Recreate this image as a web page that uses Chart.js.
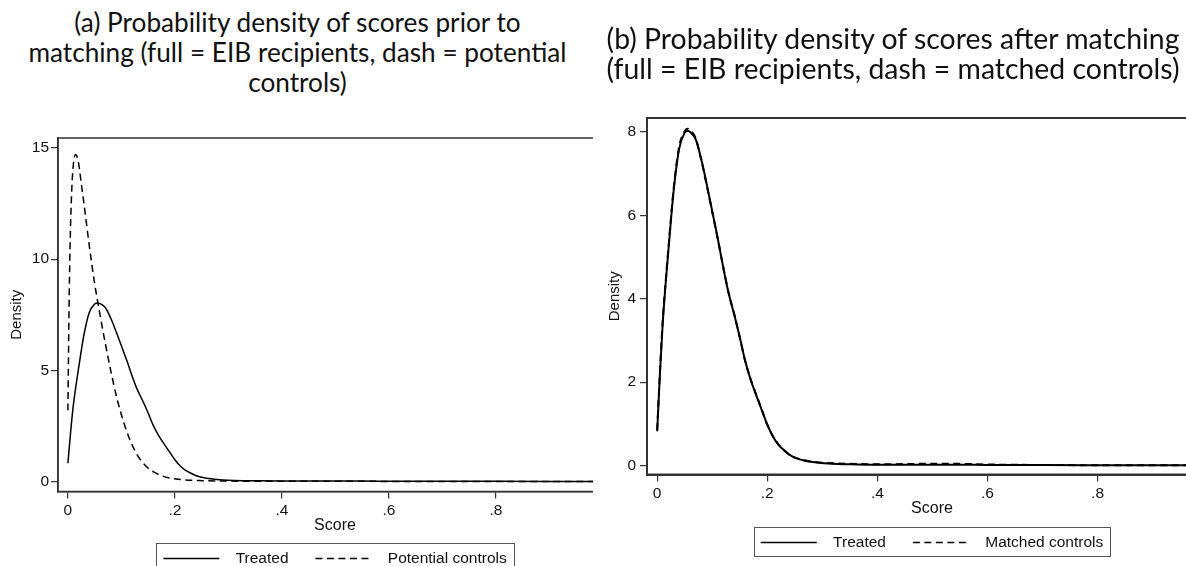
<!DOCTYPE html>
<html>
<head>
<meta charset="utf-8">
<title>Score densities</title>
<script src="https://cdn.jsdelivr.net/npm/chart.js@4.4.1/dist/chart.umd.min.js"></script>
<style>
  html, body { margin: 0; padding: 0; background: #fff; }
  body { width: 1186px; height: 566px; overflow: hidden; position: relative; }
  .caption {
    position: absolute;
    font-family: Lato, "Open Sans", sans-serif;
    color: #111;
    text-align: center;
    white-space: nowrap;
  }
  #capA { left: 0; width: 595px; top: 7px; font-size: 26.2px; line-height: 30px; }
  #capB { left: 600px; width: 586px; top: 23px; font-size: 28.4px; line-height: 30px; }
  #panelA { position: absolute; left: 0; top: 0; }
  #panelB { position: absolute; left: 593px; top: 0; width: 593px; height: 566px; overflow: hidden; background: #fff; }
  canvas { display: block; }
</style>
</head>
<body>
<div class="caption" id="capA">(a) Probability density of scores prior to<br>matching (full = EIB recipients, dash = potential<br>controls)</div>
<div id="panelA"><canvas id="chartA" width="640" height="576"></canvas></div>
<div id="panelB"><canvas id="chartB" width="652" height="560"></canvas></div>
<div class="caption" id="capB">(b) Probability density of scores after matching<br>(full = EIB recipients, dash = matched controls)</div>

<script>
// kernel density estimates of the propensity score
const scores = [0, 0.005, 0.01, 0.015, 0.02, 0.03, 0.04, 0.05, 0.055, 0.06,
  0.07, 0.08, 0.09, 0.1, 0.11, 0.12, 0.13, 0.14, 0.15, 0.16,
  0.17, 0.18, 0.19, 0.2, 0.21, 0.22, 0.23, 0.24, 0.25, 0.27,
  0.29, 0.31, 0.35, 0.4, 0.45, 0.5, 0.55, 0.6, 0.7, 0.8, 0.9, 1.0];
const treated = [0.82, 2.2, 3.4, 4.3, 5.1, 6.6, 7.6, 7.98, 8.03, 8.0,
  7.82, 7.35, 6.75, 6.1, 5.45, 4.75, 4.12, 3.62, 3.08, 2.5,
  2.05, 1.68, 1.33, 0.98, 0.7, 0.5, 0.37, 0.26, 0.19, 0.11,
  0.07, 0.05, 0.03, 0.02, 0.02, 0.02, 0.02, 0.015, 0.01, 0.008, 0.005, 0.003];
const matchedControls = [0.85, 2.25, 3.45, 4.35, 5.15, 6.65, 7.65, 8.02, 8.08, 8.04,
  7.85, 7.33, 6.72, 6.08, 5.44, 4.76, 4.13, 3.63, 3.07, 2.5,
  2.06, 1.7, 1.34, 0.98, 0.71, 0.51, 0.37, 0.26, 0.19, 0.12,
  0.08, 0.06, 0.04, 0.03, 0.035, 0.045, 0.04, 0.025, 0.012, 0.008, 0.005, 0.003];

const controlScores = [0, 0.002, 0.004, 0.007, 0.01, 0.0145, 0.02, 0.025, 0.03, 0.04,
  0.05, 0.06, 0.07, 0.08, 0.09, 0.1, 0.11, 0.12, 0.13, 0.14,
  0.15, 0.16, 0.18, 0.2, 0.22, 0.25, 0.3, 0.35, 0.4, 0.5,
  0.6, 0.7, 0.8, 0.9, 1.0];
const potentialControls = [3.2, 7.5, 10.5, 13.0, 14.2, 14.7, 14.3, 13.4, 12.5, 10.6,
  8.9, 7.5, 6.2, 5.0, 3.9, 3.0, 2.25, 1.65, 1.18, 0.85,
  0.6, 0.43, 0.22, 0.12, 0.07, 0.04, 0.02, 0.015, 0.01, 0.008,
  0.006, 0.005, 0.004, 0.003, 0.002];

const xTicks = [0, 0.2, 0.4, 0.6, 0.8];
const yTicksA = [0, 5, 10, 15];
const yTicksB = [0, 2, 4, 6, 8];

const axisColor = '#333';
const textColor = '#111';
const axisFont = { family: '"Liberation Sans", Arial, sans-serif', size: 15.5 };
const keyLength = 56;

function toPoints(xs, ys) {
  return xs.map((x, i) => ({ x: x, y: ys[i] }));
}

// Stata style labels: .2 instead of 0.2
function shortLabel(v) {
  return v === 0 ? '0' : String(v).replace(/^0\./, '.');
}

// plot region border, legend key lines and the box round the legend
const framePlugin = {
  id: 'frame',
  beforeDatasetsDraw(chart, args, opts) {
    const { ctx, chartArea: a } = chart;
    ctx.save();
    ctx.strokeStyle = axisColor;
    ctx.lineWidth = opts.width;
    ctx.strokeRect(a.left, a.top, a.right - a.left, a.bottom - a.top);
    ctx.restore();
  },
  afterDraw(chart) {
    const boxes = chart.legend.legendHitBoxes;
    if (!boxes || !boxes.length) return;
    const ctx = chart.ctx;
    ctx.save();
    ctx.strokeStyle = '#000';
    ctx.lineWidth = 1.3;
    boxes.forEach((hb, i) => {
      const ds = chart.data.datasets[i];
      const y = Math.round(hb.top + axisFont.size / 2) + 0.5;
      ctx.setLineDash(ds.borderDash || []);
      ctx.beginPath();
      ctx.moveTo(hb.left, y);
      ctx.lineTo(hb.left + keyLength, y);
      ctx.stroke();
    });
    ctx.setLineDash([]);
    const first = boxes[0], last = boxes[boxes.length - 1];
    const x1 = Math.round(first.left - 7) + 0.5;
    const x2 = Math.round(last.left + last.width + 7) + 0.5;
    const y1 = Math.round(first.top - 8) + 0.5;
    const y2 = Math.round(first.top + first.height + 6) + 0.5;
    ctx.strokeStyle = '#555';
    ctx.lineWidth = 1;
    ctx.strokeRect(x1, y1, x2 - x1, y2 - y1);
    ctx.restore();
  }
};

function makeChart(canvasId, o) {
  return new Chart(document.getElementById(canvasId), {
    type: 'line',
    data: { datasets: o.datasets },
    plugins: [framePlugin],
    options: {
      responsive: false,
      animation: false,
      layout: { padding: { top: o.top, right: 28, bottom: 0, left: 0 } },
      elements: { point: { radius: 0 } },
      scales: {
        x: {
          type: 'linear',
          min: -0.0185,
          max: 1.017,
          afterBuildTicks: s => { s.ticks = xTicks.map(v => ({ value: v })); },
          afterFit: s => { s.height = o.xHeight; },
          border: { display: true, color: axisColor, width: o.axisWidth },
          grid: { drawOnChartArea: false, drawTicks: true, tickLength: 7, color: axisColor, lineWidth: 1.2 },
          ticks: { padding: 3, color: textColor, font: axisFont, maxRotation: 0, autoSkip: false, callback: v => shortLabel(v) },
          title: { display: true, text: 'Score', color: textColor, font: { family: axisFont.family, size: 16 }, padding: { top: 0, bottom: o.scoreGap } }
        },
        y: {
          type: 'linear',
          min: o.yMin,
          max: o.yMax,
          afterBuildTicks: s => { s.ticks = o.yTicks.map(v => ({ value: v })); },
          afterFit: s => { s.width = o.yWidth; },
          border: { display: true, color: axisColor, width: o.axisWidth },
          grid: { drawOnChartArea: false, drawTicks: true, tickLength: 7, color: axisColor, lineWidth: 1.2 },
          ticks: { padding: o.yPad, color: textColor, font: axisFont, autoSkip: false, callback: v => String(v) },
          title: { display: true, text: 'Density', color: textColor, font: { family: axisFont.family, size: 15 }, padding: { top: o.densityGap, bottom: 0 } }
        }
      },
      plugins: {
        frame: { width: o.axisWidth },
        tooltip: { enabled: false },
        legend: {
          position: 'bottom',
          fullSize: false,
          labels: {
            usePointStyle: true,
            pointStyle: 'line',
            pointStyleWidth: keyLength,
            padding: 14,
            color: textColor,
            font: axisFont,
            generateLabels(chart) {
              const items = Chart.defaults.plugins.legend.labels.generateLabels(chart);
              items.forEach((it, i) => {
                it.text = '  ' + it.text + (i < items.length - 1 ? '   ' : '');
                it.lineWidth = 0; // key lines are drawn by the frame plugin
              });
              return items;
            }
          }
        }
      }
    }
  });
}

// (a) before matching
makeChart('chartA', {
  top: 138, xHeight: 45, scoreGap: 1, yWidth: 58, yPad: 2, densityGap: 8,
  yMin: -0.449, yMax: 15.447, yTicks: yTicksA, axisWidth: 1.5,
  datasets: [
    { label: 'Treated', data: toPoints(scores, treated), borderColor: '#000', borderWidth: 1.5,
      cubicInterpolationMode: 'monotone', fill: false },
    { label: 'Potential controls', data: toPoints(controlScores, potentialControls), borderColor: '#000',
      borderWidth: 1.5, borderDash: [7, 4.5], cubicInterpolationMode: 'monotone', fill: false }
  ]
});

// (b) after matching
makeChart('chartB', {
  top: 118, xHeight: 46, scoreGap: 2, yWidth: 54, yPad: 4, densityGap: 13,
  yMin: -0.2156, yMax: 8.335, yTicks: yTicksB, axisWidth: 2,
  datasets: [
    { label: 'Treated', data: toPoints(scores, treated), borderColor: '#000', borderWidth: 2,
      cubicInterpolationMode: 'monotone', fill: false },
    { label: 'Matched controls', data: toPoints(scores, matchedControls), borderColor: '#000',
      borderWidth: 2, borderDash: [7, 4.5], cubicInterpolationMode: 'monotone', fill: false }
  ]
});
</script>
</body>
</html>
